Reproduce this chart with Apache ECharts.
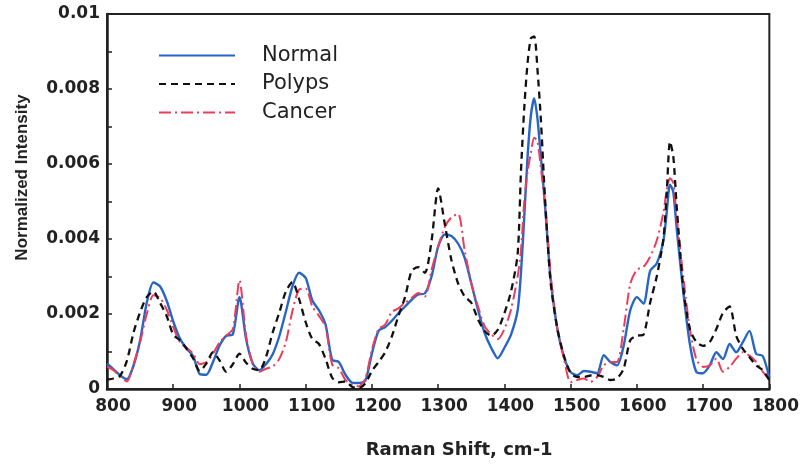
<!DOCTYPE html>
<html>
<head>
<meta charset="utf-8">
<script src="https://cdn.jsdelivr.net/npm/echarts@6/dist/echarts.min.js"></script>
<style>
html,body{margin:0;padding:0;background:#fff;}
#chart{width:802px;height:464px;}
</style>
</head>
<body>
<div id="chart"></div>
<script>
// Raman shift (cm-1)
const shifts = [800,810,820,830,840,850,860,870,880,890,900,910,920,930,940,950,960,970,980,990,
1000,1010,1020,1030,1040,1050,1060,1070,1080,1090,1100,1110,1120,1130,1140,1150,1160,1170,1180,1190,
1200,1210,1220,1230,1240,1250,1260,1270,1280,1290,1300,1310,1320,1330,1340,1350,1360,1370,1380,1390,
1400,1410,1420,1425,1430,1435,1440,1445,1450,1455,1460,1465,1470,1480,1490,
1500,1510,1520,1530,1540,1550,1560,1570,1580,1590,1600,1610,1620,1630,1640,1645,1650,1655,1660,1670,1680,1690,
1700,1710,1720,1730,1740,1750,1760,1770,1780,1790,1800];

// Normalized intensity, in units of 0.001
const normal = [0.68,0.52,0.36,0.26,0.62,1.3,2.3,2.84,2.74,2.36,1.8,1.35,1.08,0.88,0.4,0.38,0.72,1.16,1.42,1.46,
2.45,1.33,0.68,0.5,0.66,0.92,1.4,2.06,2.74,3.1,2.96,2.36,2.1,1.72,0.78,0.72,0.38,0.17,0.16,0.22,
0.95,1.55,1.65,1.82,2.02,2.2,2.38,2.52,2.55,3.0,3.8,4.12,4.08,3.88,3.5,2.82,2.12,1.5,1.1,0.82,
1.1,1.45,2.1,3.1,4.6,6.2,7.3,7.75,7.2,6.2,5.2,4.0,2.9,1.6,0.85,
0.45,0.37,0.48,0.46,0.42,0.9,0.72,0.63,1.15,2.1,2.45,2.28,3.15,3.35,3.95,4.7,5.45,5.25,4.3,2.6,1.2,0.45,
0.42,0.63,0.98,0.8,1.2,0.98,1.25,1.55,0.94,0.88,0.3];

const polyps = [0.25,0.28,0.36,0.75,1.5,2.05,2.45,2.6,2.3,1.95,1.45,1.3,1.08,0.82,0.48,0.68,0.98,0.76,0.46,0.66,
0.94,0.7,0.54,0.5,0.85,1.5,2.03,2.6,2.85,2.4,1.78,1.33,1.2,0.8,0.3,0.18,0.2,0.06,0.02,0.15,
0.48,0.72,0.98,1.4,1.95,2.45,3.15,3.25,3.1,3.95,5.35,4.4,3.44,2.82,2.47,2.3,1.86,1.55,1.42,1.58,
2.02,2.6,3.6,5.8,7.5,8.7,9.35,9.4,8.5,7.2,5.5,4.0,2.8,1.6,0.88,
0.42,0.32,0.32,0.36,0.37,0.32,0.24,0.28,0.54,1.3,1.42,1.45,2.3,3.0,4.0,5.2,6.6,6.2,4.9,2.7,1.6,1.25,
1.15,1.25,1.6,2.03,2.2,1.42,1.07,0.85,0.63,0.5,0.24];

const cancer = [0.6,0.5,0.32,0.2,0.66,1.25,2.0,2.5,2.43,2.12,1.65,1.25,1.1,0.94,0.66,0.72,0.94,1.25,1.42,1.6,
2.9,1.42,0.68,0.46,0.54,0.6,0.8,1.25,2.08,2.65,2.68,2.2,1.95,1.65,0.65,0.55,0.24,0.12,0.07,0.28,
1.05,1.6,1.72,2.05,2.15,2.3,2.43,2.56,2.47,3.18,3.8,4.32,4.58,4.67,3.7,2.82,2.21,1.68,1.46,1.33,
1.6,2.12,3.0,3.7,5.0,5.8,6.3,6.7,6.6,5.9,5.1,4.2,3.0,1.6,0.8,
0.18,0.24,0.28,0.19,0.32,0.63,0.72,0.72,1.6,2.8,3.18,3.26,3.53,3.96,4.7,5.3,5.62,5.5,4.6,3.0,1.6,0.78,
0.59,0.63,0.81,0.46,0.59,0.81,0.98,0.89,0.72,0.46,0.24];

const seriesNames = ['Normal', 'Polyps', 'Cancer'];
const UNIT = 0.001;

function pairs(vals) {
  return shifts.map((x, i) => [x, +(vals[i] * UNIT).toFixed(6)]);
}

const chart = echarts.init(document.getElementById('chart'), null, {renderer: 'canvas'});
const axisColor = '#222';
chart.setOption({
  animation: false,
  backgroundColor: '#fff',
  grid: {
    left: 107, right: 32, top: 14, bottom: 70,
    show: true, borderColor: axisColor, borderWidth: 2, backgroundColor: 'transparent'
  },
  legend: {
    data: seriesNames,
    orient: 'vertical',
    left: 153, top: 40,
    itemWidth: 76, itemHeight: 14, itemGap: 7.5,
    itemStyle: {opacity: 0},
    textStyle: {
      fontFamily: 'DejaVu Sans', fontSize: 21, color: '#222',
      padding: [0, 0, 0, 22]
    }
  },
  xAxis: {
    type: 'value',
    min: 800, max: 1800, interval: 100,
    name: 'Raman Shift, cm-1',
    nameLocation: 'middle',
    nameGap: 52,
    nameTextStyle: {fontFamily: 'DejaVu Sans', fontWeight: 'bold', fontSize: 18, color: '#222', padding: [0, 0, 0, 42]},
    axisLine: {show: true, lineStyle: {color: axisColor, width: 2.5}},
    axisTick: {show: true, inside: true, length: 5, lineStyle: {color: axisColor, width: 1.5}},
    axisLabel: {
      fontFamily: 'DejaVu Sans', fontWeight: 'bold', fontSize: 17, color: '#222', margin: 9, padding: [0, 0, 0, 12],
      formatter: function (v) { return String(v); }
    },
    splitLine: {show: false}
  },
  yAxis: {
    type: 'value',
    min: 0, max: 0.01, interval: 0.001,
    name: 'Normalized Intensity',
    nameLocation: 'middle',
    nameRotate: 90,
    nameGap: 76,
    nameTextStyle: {fontFamily: 'Liberation Sans', fontWeight: 'bold', fontSize: 17, color: '#222', padding: [0, 0, 0, 48]},
    axisLine: {show: true, lineStyle: {color: axisColor, width: 2.5}},
    axisTick: {show: true, inside: true, length: 5, lineStyle: {color: axisColor, width: 1.5}},
    axisLabel: {
      fontFamily: 'DejaVu Sans', fontWeight: 'bold', fontSize: 17, color: '#222', margin: 7,
      padding: [6, 0, 0, 0],
      formatter: function (v) {
        const m = Math.round(v * 1000);
        if (m % 2 !== 0) return '';
        return m === 0 ? '0' : String(+(m / 1000).toFixed(3));
      }
    },
    splitLine: {show: false}
  },
  series: [
    {
      name: 'Normal', type: 'line', data: pairs(normal), showSymbol: false, symbol: 'none', smooth: 0.25,
      lineStyle: {color: '#2765c6', width: 2.4}, itemStyle: {color: '#2765c6'}, z: 2
    },
    {
      name: 'Polyps', type: 'line', data: pairs(polyps), showSymbol: false, symbol: 'none', smooth: 0.25,
      lineStyle: {color: '#111', width: 2.3, type: [7, 5]}, itemStyle: {color: '#111'}, z: 4
    },
    {
      name: 'Cancer', type: 'line', data: pairs(cancer), showSymbol: false, symbol: 'none', smooth: 0.25,
      lineStyle: {color: '#ec3d5a', width: 2, type: [12, 4, 2, 4]}, itemStyle: {color: '#ec3d5a'}, z: 3
    }
  ]
});
</script>
</body>
</html>
